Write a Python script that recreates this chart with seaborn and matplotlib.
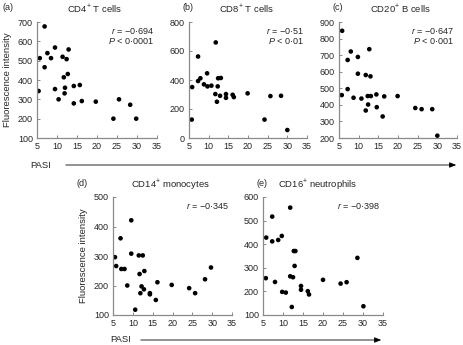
import matplotlib
matplotlib.use("Agg")
import matplotlib.pyplot as plt
import seaborn as sns
import pandas as pd

sns.set_style("white")
plt.rcParams['font.family'] = ['Liberation Sans', 'DejaVu Sans']
plt.rcParams['mathtext.fontset'] = 'custom'
plt.rcParams['mathtext.rm'] = 'Liberation Sans'
plt.rcParams['mathtext.it'] = 'Liberation Sans:italic'

# ---- data (PASI vs fluorescence intensity) ----
a_pasi = [6.9, 9.5, 12.9, 7.6, 5.7, 8.5, 11.4, 12.4, 6.9, 11.7, 12.7, 5.4, 9.5, 12.0,
          11.9, 10.4, 14.2, 15.7, 14.2, 16.2, 19.7, 25.5, 28.3, 24.1, 29.8]
a_fi = [677, 568, 558, 539, 513, 513, 520, 508, 466, 414, 431, 343, 353, 360,
        331, 300, 369, 374, 279, 291, 288, 300, 272, 200, 200]

b_pasi = [11.8, 7.3, 9.6, 7.3, 7.9, 8.8, 9.7, 10.7, 5.8, 12.4, 13.1, 12.3, 11.7, 12.9,
          12.1, 14.4, 14.4, 16.1, 16.4, 19.9, 25.7, 28.4, 5.7, 24.2, 30.0]
b_fi = [659, 562, 446, 393, 412, 370, 356, 361, 351, 412, 414, 356, 303, 291,
        250, 303, 277, 298, 282, 308, 289, 291, 127, 127, 55]

c_pasi = [5.8, 8.0, 12.7, 7.2, 9.8, 9.8, 11.8, 13.0, 7.2, 5.7, 8.7, 10.7, 12.3, 13.1,
          14.5, 16.5, 19.9, 12.4, 11.8, 14.6, 16.1, 24.4, 26.0, 28.7, 30.0]
c_fi = [847, 722, 736, 671, 689, 588, 580, 572, 495, 459, 443, 438, 453, 453,
        463, 451, 453, 402, 366, 386, 330, 381, 374, 374, 214]

d_pasi = [9.6, 6.9, 9.6, 11.5, 12.5, 5.5, 5.8, 7.1, 7.9, 12.9, 11.7, 8.6, 12.2, 12.8,
          11.9, 14.3, 14.3, 16.2, 15.8, 10.6, 19.8, 24.2, 25.7, 28.2, 29.7]
d_fi = [421, 360, 308, 302, 302, 296, 266, 256, 256, 249, 239, 200, 197, 187,
        174, 174, 170, 211, 151, 118, 202, 191, 174, 221, 261]

e_pasi = [11.8, 7.3, 5.8, 7.3, 8.8, 9.7, 12.7, 13.1, 12.9, 11.8, 12.5, 5.7, 8.0, 9.8,
          10.7, 14.5, 14.5, 16.2, 16.5, 20.0, 24.4, 25.9, 28.6, 12.2, 30.1]
e_fi = [555, 517, 428, 412, 418, 435, 371, 371, 308, 264, 260, 256, 240, 198,
        195, 223, 207, 201, 187, 249, 233, 239, 342, 134, 137]

panel_letters = ['(a)', '(b)', '(c)', '(d)', '(e)']
panel_titles = [r'CD4$^{+}$ T cells', r'CD8$^{+}$ T cells', r'CD20$^{+}$ B cells',
                r'CD14$^{+}$ monocytes', r'CD16$^{+}$ neutrophils']
r_labels = ['\u22120\u00b7694', '\u22120\u00b751', '\u22120\u00b7647', '\u22120\u00b7345', '\u22120\u00b7398']
p_labels = ['0\u00b70001', '0\u00b701', '0\u00b7001', None, None]
x_ticks = [5, 10, 15, 20, 25, 30, 35]
y_ticks = [[100, 200, 300, 400, 500, 600, 700],
           [0, 200, 400, 600, 800],
           [200, 300, 400, 500, 600, 700, 800, 900],
           [100, 200, 300, 400, 500],
           [100, 200, 300, 400, 500, 600]]
xlabel = 'PASI'
ylabel = 'Fluorescence intensity'

series = [(a_pasi, a_fi), (b_pasi, b_fi), (c_pasi, c_fi), (d_pasi, d_fi), (e_pasi, e_fi)]

W, H = 463, 345
fig = plt.figure(figsize=(W / 100, H / 100), dpi=100)

def px(x0, x1, ytop, ybot):
    return [x0 / W, 1 - ybot / H, (x1 - x0) / W, (ybot - ytop) / H]

boxes = [px(37, 157, 22, 138), px(189, 307, 22, 138), px(339, 457, 22, 138),
         px(113, 232, 197, 315), px(263, 383, 197, 315)]
letter_pos = [(8, 8), (188, 8), (338, 8), (82, 184), (262, 184)]
title_pos = [(95, 9), (247, 9), (400, 9), (170, 185), (318, 185)]

spine_c = '#8a8a8a'
fs = 6.5
for i, (xs, ys) in enumerate(series):
    ax = fig.add_axes(boxes[i])
    df = pd.DataFrame({'PASI': xs, 'FI': ys})
    sns.scatterplot(data=df, x='PASI', y='FI', ax=ax, color='black', s=11,
                    edgecolor='none', linewidth=0)
    ax.set_xlim(5, 35)
    ax.set_ylim(y_ticks[i][0], y_ticks[i][-1])
    ax.set_xticks(x_ticks)
    ax.set_yticks(y_ticks[i])
    ax.set_xlabel('')
    ax.set_ylabel('')
    for s in ['top', 'right']:
        ax.spines[s].set_visible(False)
    for s in ['left', 'bottom']:
        ax.spines[s].set_color(spine_c)
        ax.spines[s].set_linewidth(0.9)
    ax.tick_params(direction='in', length=2.5, width=0.7, color=spine_c,
                   labelsize=fs, pad=3, left=True, bottom=True)
    ax.patch.set_alpha(0)
    # correlation annotation
    if p_labels[i] is None:
        txt = r'$r$ = ' + r_labels[i]
    else:
        txt = r'$r$ = ' + r_labels[i] + '\n' + r'$P$ < ' + p_labels[i]
    rx = boxes[i][0] + boxes[i][2] - 3 / W
    ry = boxes[i][1] + boxes[i][3] - 4 / H
    fig.text(rx, ry, txt, ha='right', va='top', fontsize=fs, linespacing=1.05)
    fig.text(letter_pos[i][0] / W, 1 - letter_pos[i][1] / H, panel_letters[i],
             ha='center', va='center', fontsize=fs)
    fig.text(title_pos[i][0] / W, 1 - title_pos[i][1] / H, panel_titles[i],
             ha='center', va='center', fontsize=fs + 0.3)

# y labels
fig.text(8 / W, 1 - 80 / H, ylabel, rotation=90, ha='center', va='center', fontsize=fs + 0.3)
fig.text(83 / W, 1 - 256 / H, ylabel, rotation=90, ha='center', va='center', fontsize=fs + 0.3)

# PASI labels with arrows
for (lx, ly, x0, x1) in [(41, 165, 63, 459), (121, 340, 138, 384)]:
    fig.text(lx / W, 1 - ly / H, xlabel, ha='center', va='center', fontsize=fs + 0.3)
    fig.patches.append(matplotlib.patches.FancyArrowPatch(
        (x0 / W, 1 - ly / H), (x1 / W, 1 - ly / H), transform=fig.transFigure,
        arrowstyle='-|>,head_length=4,head_width=1.6', color='black', linewidth=0.6,
        mutation_scale=1))

fig.savefig('out.png', dpi=100)
